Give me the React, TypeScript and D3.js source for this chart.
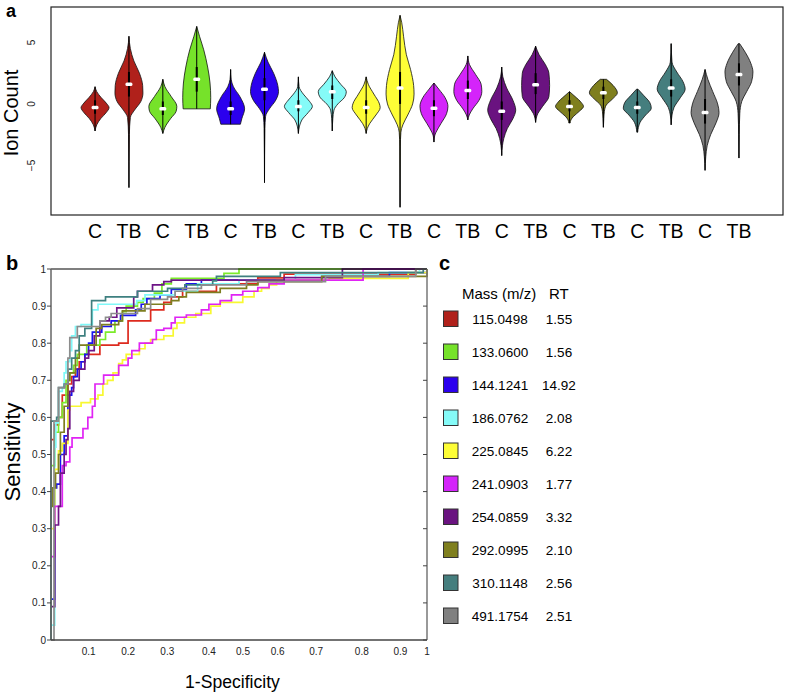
import React from "react";
import * as d3 from "d3";

// ---------- Panel a: violin data ----------
const groupLabels = ["C","TB","C","TB","C","TB","C","TB","C","TB","C","TB","C","TB","C","TB","C","TB","C","TB"];
const metaboliteColors = ["#B0211B","#76E22A","#2B00EE","#85FBF8","#FEFE36","#D424FA","#6A1380","#7F7F1E","#457E7E","#808080"];
const rocColors = ["#DD2A1E","#7CEB2A","#1A14F0","#80F8F8","#F8F830","#E024F4","#6E1486","#7E7E20","#3E8080","#8C8C8C"];
const metaboliteMasses = ["115.0498","133.0600","144.1241","186.0762","225.0845","241.0903","254.0859","292.0995","310.1148","491.1754"];
const retentionTimes = ["1.55","1.56","14.92","2.08","6.22","1.77","3.32","2.10","2.56","2.51"];

const violinMedians = [-0.3,1.6,-0.4,2.0,-0.4,1.2,-0.2,1.0,-0.3,1.3,-0.35,1.1,-0.6,1.55,-0.2,0.9,-0.3,1.3,-0.7,2.4];
const violinQ1 = [-0.8,0.6,-0.9,1.0,-0.9,0.3,-0.6,0.4,-0.8,0.0,-1.0,0.4,-1.3,0.8,-0.6,0.4,-0.8,0.6,-1.6,1.5];
const violinQ3 = [0.3,2.6,0.2,3.0,0.2,2.1,0.3,1.5,0.3,2.6,0.3,1.9,0.2,2.5,0.3,1.4,0.2,2.0,0.4,3.3];
// density profiles: [ion count, relative half width], top to bottom
const violinProfiles: [number, number][][] = [
  [[1.4,0],[1.0,0.12],[0.5,0.45],[0.0,0.85],[-0.3,1.0],[-0.7,0.8],[-1.2,0.4],[-1.7,0.12],[-2.2,0]],
  [[5.5,0],[4.5,0.1],[3.5,0.35],[2.5,0.75],[1.5,0.98],[0.9,1.0],[0.2,0.85],[-0.5,0.4],[-1.1,0.1],[-2.5,0.03],[-6.8,0]],
  [[2.0,0],[1.4,0.15],[0.6,0.6],[-0.2,1.0],[-0.6,0.95],[-1.2,0.55],[-1.9,0.15],[-2.4,0]],
  [[6.3,0],[5.5,0.2],[4.4,0.5],[3.0,0.78],[1.7,0.95],[0.5,1.0],[-0.4,0.97]],
  [[2.8,0],[2.0,0.04],[1.4,0.2],[0.6,0.66],[-0.4,1.0],[-1.2,0.8],[-1.65,0.7]],
  [[4.2,0],[3.4,0.25],[2.5,0.65],[1.5,0.95],[1.0,1.0],[0.3,0.8],[-0.4,0.35],[-1.0,0.08],[-2.0,0.03],[-6.4,0]],
  [[2.2,0],[1.4,0.05],[0.8,0.35],[0.2,0.8],[-0.2,1.0],[-0.7,0.7],[-1.3,0.25],[-1.8,0.08],[-2.4,0]],
  [[2.7,0],[2.2,0.2],[1.6,0.6],[1.0,1.0],[0.5,0.85],[0.0,0.4],[-0.5,0.12],[-1.2,0.04],[-2.2,0]],
  [[2.2,0],[1.6,0.15],[0.8,0.55],[0.0,0.95],[-0.3,1.0],[-0.9,0.7],[-1.6,0.25],[-2.0,0.08],[-2.4,0]],
  [[7.2,0],[6.6,0.12],[5.5,0.25],[4.0,0.45],[2.8,0.75],[1.5,0.97],[0.8,1.0],[0.0,0.9],[-0.9,0.55],[-1.7,0.2],[-2.3,0.06],[-3.5,0.02],[-8.4,0]],
  [[1.7,0],[1.2,0.35],[0.5,0.8],[-0.2,1.0],[-0.8,0.9],[-1.6,0.5],[-2.3,0.15],[-2.6,0.05],[-3.1,0]],
  [[3.9,0],[3.2,0.12],[2.4,0.55],[1.6,0.95],[1.0,1.0],[0.3,0.8],[-0.4,0.35],[-0.9,0.1],[-1.3,0]],
  [[3.0,0],[2.2,0.08],[1.3,0.35],[0.3,0.8],[-0.5,1.0],[-1.2,0.8],[-2.0,0.4],[-2.8,0.15],[-3.4,0.05],[-4.2,0]],
  [[4.7,0],[4.0,0.25],[3.2,0.7],[2.5,0.95],[1.5,1.0],[0.6,0.95],[-0.2,0.5],[-0.8,0.15],[-1.5,0]],
  [[1.0,0],[0.6,0.4],[0.1,0.85],[-0.2,1.0],[-0.6,0.7],[-1.0,0.3],[-1.3,0.1],[-1.55,0.05]],
  [[2.0,0.22],[1.5,0.7],[0.9,1.0],[0.4,0.65],[-0.1,0.2],[-0.6,0.07],[-1.2,0.03],[-1.9,0]],
  [[1.2,0.05],[0.7,0.45],[0.1,0.9],[-0.35,1.0],[-0.9,0.6],[-1.5,0.2],[-1.9,0.08],[-2.3,0.03]],
  [[4.9,0],[3.4,0.06],[2.6,0.4],[1.8,0.85],[1.2,1.0],[0.5,0.65],[-0.3,0.2],[-0.9,0.06],[-1.7,0]],
  [[2.8,0],[2.0,0.2],[1.0,0.55],[0.0,0.9],[-0.7,1.0],[-1.5,0.8],[-2.5,0.4],[-3.4,0.15],[-4.3,0.05],[-5.4,0]],
  [[4.9,0.05],[4.2,0.45],[3.3,0.85],[2.6,1.0],[1.8,0.9],[1.0,0.55],[0.2,0.2],[-0.8,0.06],[-2.5,0.02],[-4.4,0]],
];
const ionCountTicks = [5, 0, -5];

// ---------- Panel b: ROC curves, [1-specificity, sensitivity] ----------
const rocRed: [number, number][] = [[0,0],[0,0.54],[0.01,0.58],[0.02,0.6],[0.03,0.66],[0.045,0.69],[0.055,0.71],[0.065,0.73],[0.075,0.75],[0.09,0.77],[0.13,0.795],[0.18,0.8],[0.205,0.86],[0.265,0.89],[0.3,0.91],[0.32,0.925],[0.35,0.94],[0.44,0.96],[0.55,0.976],[0.62,0.986],[0.97,1],[1,1]];
const rocGreen: [number, number][] = [[0,0],[0,0.47],[0.01,0.56],[0.02,0.6],[0.03,0.64],[0.04,0.7],[0.05,0.72],[0.06,0.74],[0.07,0.77],[0.095,0.795],[0.13,0.81],[0.145,0.83],[0.17,0.86],[0.19,0.885],[0.2,0.9],[0.23,0.91],[0.245,0.92],[0.275,0.935],[0.295,0.96],[0.32,0.975],[0.46,0.988],[0.5,1],[1,1]];
const rocBlue: [number, number][] = [[0,0],[0,0.11],[0.01,0.41],[0.015,0.42],[0.025,0.5],[0.035,0.55],[0.045,0.66],[0.055,0.68],[0.06,0.71],[0.07,0.73],[0.08,0.75],[0.09,0.77],[0.1,0.8],[0.11,0.83],[0.135,0.845],[0.16,0.86],[0.185,0.875],[0.225,0.89],[0.24,0.905],[0.255,0.92],[0.29,0.93],[0.32,0.945],[0.36,0.96],[0.4,0.97],[0.72,0.98],[0.9,0.99],[1,1]];
const rocCyan: [number, number][] = [[0,0],[0,0.04],[0.01,0.09],[0.01,0.52],[0.013,0.585],[0.02,0.67],[0.03,0.68],[0.035,0.72],[0.04,0.75],[0.05,0.78],[0.055,0.82],[0.065,0.845],[0.08,0.85],[0.11,0.89],[0.125,0.905],[0.228,0.915],[0.25,0.93],[0.33,0.94],[0.39,0.96],[0.5,0.97],[0.65,0.985],[0.87,0.99],[0.98,1],[1,1]];
const rocYellow: [number, number][] = [[0,0],[0,0.3],[0.01,0.46],[0.02,0.51],[0.03,0.53],[0.045,0.62],[0.05,0.63],[0.08,0.64],[0.105,0.65],[0.125,0.66],[0.138,0.69],[0.15,0.7],[0.165,0.72],[0.18,0.745],[0.19,0.755],[0.2,0.77],[0.235,0.785],[0.25,0.8],[0.265,0.81],[0.3,0.82],[0.325,0.84],[0.335,0.855],[0.355,0.87],[0.385,0.88],[0.425,0.9],[0.45,0.91],[0.51,0.925],[0.54,0.94],[0.56,0.948],[0.58,0.957],[0.6,0.97],[0.74,0.975],[0.95,0.99],[1,1]];
const rocMagenta: [number, number][] = [[0,0],[0,0.225],[0.01,0.36],[0.03,0.47],[0.04,0.48],[0.05,0.52],[0.056,0.545],[0.085,0.57],[0.098,0.6],[0.11,0.63],[0.117,0.69],[0.14,0.714],[0.18,0.74],[0.205,0.76],[0.215,0.78],[0.235,0.8],[0.27,0.81],[0.28,0.835],[0.3,0.84],[0.32,0.855],[0.33,0.87],[0.36,0.876],[0.4,0.89],[0.42,0.905],[0.45,0.915],[0.48,0.93],[0.51,0.94],[0.55,0.95],[0.58,0.96],[0.62,0.97],[0.83,1],[1,1]];
const rocPurple: [number, number][] = [[0,0],[0,0.09],[0.01,0.31],[0.02,0.36],[0.025,0.45],[0.035,0.5],[0.04,0.54],[0.045,0.57],[0.05,0.67],[0.06,0.7],[0.075,0.73],[0.09,0.76],[0.1,0.78],[0.115,0.82],[0.13,0.86],[0.155,0.87],[0.175,0.895],[0.22,0.925],[0.23,0.94],[0.27,0.957],[0.3,0.966],[0.32,0.97],[0.62,0.977],[0.775,1],[1,1]];
const rocOlive: [number, number][] = [[0,0],[0,0.36],[0.005,0.41],[0.012,0.45],[0.02,0.5],[0.025,0.56],[0.035,0.63],[0.045,0.7],[0.05,0.72],[0.065,0.76],[0.075,0.795],[0.12,0.84],[0.135,0.85],[0.18,0.86],[0.19,0.887],[0.25,0.905],[0.32,0.915],[0.34,0.925],[0.36,0.937],[0.45,0.948],[0.52,0.957],[0.55,0.966],[0.72,0.98],[1,0.99],[1,1]];
const rocTeal: [number, number][] = [[0,0],[0,0.36],[0,0.59],[0.015,0.6],[0.02,0.68],[0.035,0.69],[0.045,0.73],[0.055,0.76],[0.065,0.78],[0.075,0.82],[0.09,0.84],[0.108,0.915],[0.145,0.925],[0.23,0.94],[0.31,0.948],[0.356,0.957],[0.43,0.968],[0.44,0.98],[0.61,0.99],[0.99,1],[1,1]];
const rocGray: [number, number][] = [[0,0],[0.008,0.1],[0.008,0.59],[0.02,0.68],[0.037,0.69],[0.045,0.76],[0.05,0.815],[0.07,0.845],[0.13,0.86],[0.145,0.87],[0.16,0.88],[0.23,0.893],[0.265,0.918],[0.31,0.925],[0.33,0.94],[0.35,0.948],[0.4,0.957],[0.52,0.966],[0.73,0.98],[0.97,1],[1,1]];
const rocCurves = [rocRed, rocGreen, rocBlue, rocCyan, rocYellow, rocMagenta, rocPurple, rocOlive, rocTeal, rocGray];

const rocYTicks = [0,0.1,0.2,0.3,0.4,0.5,0.6,0.7,0.8,0.9,1];
const rocXTicks = [0.1,0.2,0.3,0.4,0.5,0.6,0.7,0.8,0.9,1];
// label placement nudges seen in the figure (pixels)
const X_LABEL_NUDGE = [0,2,3.5,7.5,4,1,2,10,11,0];

const FONT = "'Liberation Sans', Arial, Helvetica, sans-serif";

export default function App() {
  // Panel a scales
  const vx = d3.scalePoint<number>().domain(d3.range(groupLabels.length)).range([51, 783]).padding(1.3);
  const vy = d3.scaleLinear().domain([-9.03, 7.88]).range([215, 7]);
  const halfW = 14;

  // Panel b scales
  const rx = d3.scaleLinear().domain([0, 1]).range([51, 427]);
  const ry = d3.scaleLinear().domain([0, 1]).range([640, 269]);
  const rocLine = d3.line<[number, number]>().x(d => rx(d[0])).y(d => ry(d[1])).curve(d3.curveStepAfter);

  const fmt = (v: number) => (v === 0 ? "0" : v === 1 ? "1" : v.toFixed(1));

  return (
    <svg width={790} height={695} style={{ position: "absolute", left: 0, top: 0, background: "#fff" }} fontFamily={FONT}>
      <rect x={0} y={0} width={790} height={695} fill="#fff" />
      {/* ---------- panel a ---------- */}
      <text x={6} y={17} fontSize={18} fontWeight="bold">a</text>
      <rect x={51} y={7} width={732} height={208} fill="none" stroke="#222" strokeWidth={1.2} />
      <text transform={`translate(18,${113}) rotate(-90)`} textAnchor="middle" fontSize={20}>Ion Count</text>
      {ionCountTicks.map(t => (
        <text key={t} transform={`translate(35,${vy(t)}) rotate(-90)`} textAnchor="middle" fontSize={10} fill="#222">
          {t < 0 ? `\u2212${Math.abs(t)}` : `${t}`}
        </text>
      ))}
      {violinProfiles.map((prof, i) => {
        const cx = vx(i) as number;
        const color = metaboliteColors[Math.floor(i / 2)];
        const area = d3.area<[number, number]>()
          .y(d => vy(d[0]))
          .x0(d => cx - d[1] * halfW)
          .x1(d => cx + d[1] * halfW)
          .curve(d3.curveMonotoneY);
        const top = prof[0][0];
        const bottom = prof[prof.length - 1][0];
        return (
          <g key={i}>
            <path d={area(prof) || ""} fill={color} stroke="#111" strokeWidth={0.8} />
            <line x1={cx} x2={cx} y1={vy(top)} y2={vy(bottom)} stroke="#000" strokeWidth={1} />
            <rect x={cx - 1} width={2} y={vy(violinQ3[i])} height={vy(violinQ1[i]) - vy(violinQ3[i])} fill="#000" />
            <rect x={cx - 3.5} width={7} y={vy(violinMedians[i]) - 1.75} height={3.5} rx={1.5} fill="#fff" />
          </g>
        );
      })}
      {groupLabels.map((g, i) => (
        <text key={i} x={vx(i) as number} y={237.5} textAnchor="middle" fontSize={19.5} fill="#000">{g}</text>
      ))}

      {/* ---------- panel b ---------- */}
      <text x={6} y={269.5} fontSize={20} fontWeight="bold">b</text>
      <g>
        {rocCurves.map((c, i) => (
          <path key={i} d={rocLine(c) || ""} fill="none" stroke={rocColors[i]} strokeWidth={1.7} />
        ))}
      </g>
      <line x1={51} x2={427} y1={269} y2={269} stroke="#000" strokeWidth={1.2} />
      <line x1={51} x2={51} y1={269} y2={640} stroke="#666" strokeWidth={1.5} />
      <line x1={427} x2={427} y1={269} y2={640} stroke="#777" strokeWidth={1.5} />
      <line x1={51} x2={427} y1={640} y2={640} stroke="#444" strokeWidth={1.5} />
      {rocYTicks.map(t => (
        <g key={t}>
          <line x1={47} x2={51} y1={ry(t)} y2={ry(t)} stroke="#444" strokeWidth={1} />
          <line x1={423} x2={427} y1={ry(t)} y2={ry(t)} stroke="#444" strokeWidth={1} />
          <text x={46} y={ry(t) + 3.5} textAnchor="end" fontSize={10} fill="#222">{fmt(t)}</text>
        </g>
      ))}
      {rocXTicks.map((t, i) => (
        <text key={t} x={rx(t) + X_LABEL_NUDGE[i]} y={654.5} textAnchor="middle" fontSize={10} fill="#222">{fmt(t)}</text>
      ))}
      <text transform={`translate(20,452) rotate(-90)`} textAnchor="middle" fontSize={22}>Sensitivity</text>
      <text x={232.5} y={688} textAnchor="middle" fontSize={17.6}>1-Specificity</text>

      {/* ---------- panel c ---------- */}
      <text x={439} y={269.5} fontSize={20} fontWeight="bold">c</text>
      <text x={462} y={299} fontSize={15}>Mass (m/z)</text>
      <text x={549} y={299} fontSize={15}>RT</text>
      {metaboliteMasses.map((m, i) => {
        const cy = 319 + i * 33;
        return (
          <g key={m}>
            <rect x={443.5} y={cy - 8} width={14.5} height={15.5} fill={metaboliteColors[i]} stroke="#333" strokeWidth={1} />
            <text x={500} y={cy + 5} textAnchor="middle" fontSize={13.5}>{m}</text>
            <text x={559} y={cy + 5} textAnchor="middle" fontSize={13.5}>{retentionTimes[i]}</text>
          </g>
        );
      })}
    </svg>
  );
}
